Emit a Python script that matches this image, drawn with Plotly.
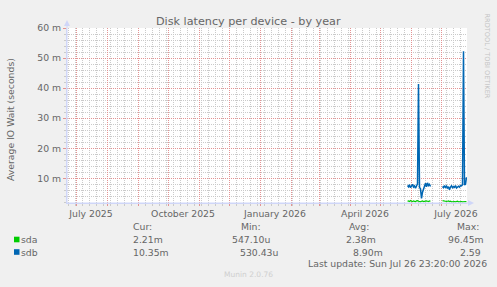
import pandas as pd
import plotly.graph_objects as go

# ---------------- data ----------------
series_start = "2026-05-28"   # first daily sample
sda = [2.4, 2.5, 2.3, 2.6, 2.4, 2.3, 2.5, 2.4, 2.2, 2.5, 2.6, 2.4, 2.3, 2.2, 2.4, 2.5,
       2.3, 2.4, 2.6, 2.5, 2.4, 2.3, 2.5, 2.4,
       None, None, None, None, None, None, None, None, None, None, None,
       2.6, 2.5, 2.4, 2.5, 2.3, 2.4, 2.5, 2.3, 2.4, 2.2, 2.3, 2.4, 2.3, 2.2, 2.3, 2.4,
       2.2, 2.3, 2.2, 2.3, 2.2, 2.3, 2.2, 2.3, 2.21]
sdb = [7.6, 7.2, 7.9, 6.9, 7.4, 8.0, 7.1, 7.5, 6.7, 7.8, 8.2, 41.4, 7.0, 6.5, 3.3, 5.4,
       6.4, 7.8, 8.4, 7.2, 8.5, 7.6, 8.0, 7.3,
       None, None, None, None, None, None, None, None, None, None, None,
       7.3, 6.9, 7.6, 7.0, 7.4, 6.8, 7.2, 6.2, 7.1, 7.5, 6.9, 7.3, 7.0, 7.6, 6.8, 7.2,
       7.4, 7.1, 7.6, 7.5, 7.9, 52.3, 7.8, 8.0, 10.35]   # milliseconds

x_range = ["2025-06-21 12:00", "2026-07-26 12:00"]
y_range_ms = [1.8, 60.0]
y_ticks_ms = [10, 20, 30, 40, 50, 60]
y_tick_text = ["10 m", "20 m", "30 m", "40 m", "50 m", "60 m"]
x_label_dates = ["2025-07-15 12:00", "2025-10-15 12:00", "2026-01-15 12:00",
                 "2026-04-15 12:00", "2026-07-15 12:00"]
x_label_text = ["July 2025", "October 2025", "January 2026", "April 2026", "July 2026"]

legend_names = ["sda", "sdb"]
legend_colors = ["#00CC00", "#0066B3"]
cur_vals = ["2.21m", "10.35m"]
min_vals = ["547.10u", "530.43u"]
avg_vals = ["2.38m", "8.90m"]
max_vals = ["96.45m", "2.59"]

title = "Disk latency per device - by year"
y_title = "Average IO Wait (seconds)"
last_update = "Last update: Sun Jul 26 23:20:00 2026"

# ---------------- figure ----------------
dates = pd.date_range(series_start, periods=len(sdb), freq="D")
to_s = lambda arr: [None if v is None else v / 1000.0 for v in arr]

W_FIG, H_FIG = 497, 287
L, R, T, B = 67, 467, 28, 203
PW, PH = R - L, B - T
px = lambda p: (p - L) / PW
py = lambda p: (B - p) / PH

FONT = "DejaVu Sans"
FC = "#666666"
FS = 9.3
MGRID = "#e39393"
GRID = "#cacaca"
AXIS = "#CFD6F8"

fig = go.Figure()
# carrier traces for the grid / label axes
fig.add_trace(go.Scatter(x=[x_range[0]], y=[None], xaxis="x2", mode="lines",
                         showlegend=False, hoverinfo="skip"))
fig.add_trace(go.Scatter(x=[x_range[0]], y=[None], xaxis="x3", mode="lines",
                         showlegend=False, hoverinfo="skip"))
fig.add_trace(go.Scatter(x=dates, y=to_s(sda), mode="lines", name="sda",
                         line=dict(color=legend_colors[0], width=1.2),
                         connectgaps=False, showlegend=False))
fig.add_trace(go.Scatter(x=dates, y=to_s(sdb), mode="lines", name="sdb",
                         line=dict(color=legend_colors[1], width=1.5),
                         connectgaps=False, showlegend=False))

fig.update_layout(
    width=W_FIG, height=H_FIG,
    margin=dict(l=L, r=W_FIG - R, t=T, b=H_FIG - B),
    paper_bgcolor="#F0F0F0", plot_bgcolor="#FFFFFF",
    font=dict(family=FONT, size=FS, color=FC),
    showlegend=False,
    # weekly minor grid
    xaxis=dict(
        type="date", range=x_range,
        tickmode="linear", tick0="2025-06-23", dtick=7 * 86400000,
        showticklabels=False,
        showgrid=True, gridcolor=GRID, gridwidth=1, griddash="1px,1px",
        ticks="outside", ticklen=2, tickcolor=GRID,
        showline=True, linecolor=AXIS, linewidth=1,
        zeroline=False, fixedrange=True,
    ),
    # monthly major grid
    xaxis2=dict(
        type="date", range=x_range, overlaying="x", anchor="y", side="bottom",
        tickmode="linear", tick0="2025-07-01", dtick="M1",
        showticklabels=False,
        showgrid=True, gridcolor=MGRID, gridwidth=1, griddash="1px,1px",
        ticks="outside", ticklen=2, tickcolor=MGRID,
        showline=False, zeroline=False, fixedrange=True,
    ),
    # labels
    xaxis3=dict(
        type="date", range=x_range, overlaying="x", anchor="y", side="bottom",
        tickmode="array", tickvals=x_label_dates, ticktext=x_label_text,
        showgrid=False, ticks="", showline=False, zeroline=False,
        ticklabelstandoff=4,
        tickfont=dict(family=FONT, size=FS, color=FC), fixedrange=True,
    ),
    yaxis=dict(
        range=[y_range_ms[0] / 1000, y_range_ms[1] / 1000],
        tickmode="array", tickvals=[v / 1000 for v in y_ticks_ms], ticktext=y_tick_text,
        showgrid=True, gridcolor=MGRID, gridwidth=1, griddash="1px,1px",
        ticks="outside", ticklen=3, tickcolor=MGRID,
        minor=dict(tickmode="linear", tick0=0, dtick=0.002,
                   showgrid=True, gridcolor=GRID, gridwidth=1, griddash="1px,1px",
                   ticks="outside", ticklen=2, tickcolor=GRID),
        showline=True, linecolor=AXIS, linewidth=1,
        zeroline=False, fixedrange=True,
        tickfont=dict(family=FONT, size=FS, color=FC),
    ),
)

ann = []
def text(x, y, s, anchor="left", size=FS, color=FC, angle=0):
    ann.append(dict(x=px(x), y=py(y), xref="paper", yref="paper", text=s,
                    showarrow=False, xanchor=anchor, yanchor="middle",
                    textangle=angle, borderpad=0,
                    font=dict(family=FONT, size=size, color=color)))

text(248, 21.5, title, anchor="center", size=11.2)
text(10, 120, y_title, anchor="center", angle=-90)
text(487, 55.5, "RRDTOOL / TOBI OETIKER", anchor="center", size=6.6,
     color="#c4c4c4", angle=90)

# legend table
text(132, 226.7, "Cur:")
text(240, 226.7, "Min:")
text(348, 226.7, "Avg:")
text(455.5, 226.7, "Max:")
rows_y = [239.5, 252]
min_x = [231, 239]
avg_x = [345, 351.5]
max_x = [447, 459]
shapes = []
for i in range(2):
    yy = rows_y[i]
    shapes.append(dict(type="rect", xref="paper", yref="paper",
                       x0=px(14), x1=px(19.5), y0=py(yy + 2.8), y1=py(yy - 2.8),
                       fillcolor=legend_colors[i], line=dict(width=0)))
    text(20, yy, legend_names[i])
    text(132, yy, cur_vals[i])
    text(min_x[i], yy, min_vals[i])
    text(avg_x[i], yy, avg_vals[i])
    text(max_x[i], yy, max_vals[i])
text(307, 263, last_update)
text(248, 274.5, "Munin 2.0.76", anchor="center", size=7.5, color="#cfcfcf")

# axis arrows
shapes.append(dict(type="path", xref="paper", yref="paper",
                   path=f"M {px(64)} {py(26)} L {px(70)} {py(26)} L {px(67)} {py(20)} Z",
                   fillcolor=AXIS, line=dict(width=0)))
shapes.append(dict(type="path", xref="paper", yref="paper",
                   path=f"M {px(468)} {py(200)} L {px(468)} {py(206)} L {px(474)} {py(203)} Z",
                   fillcolor=AXIS, line=dict(width=0)))
shapes.append(dict(type="line", xref="paper", yref="paper",
                   x0=px(67), x1=px(67), y0=py(203), y1=py(24),
                   line=dict(color=AXIS, width=1)))
shapes.append(dict(type="line", xref="paper", yref="paper",
                   x0=px(67), x1=px(470), y0=py(203), y1=py(203),
                   line=dict(color=AXIS, width=1)))

fig.update_layout(annotations=ann, shapes=shapes)
fig.write_html("out.html")
